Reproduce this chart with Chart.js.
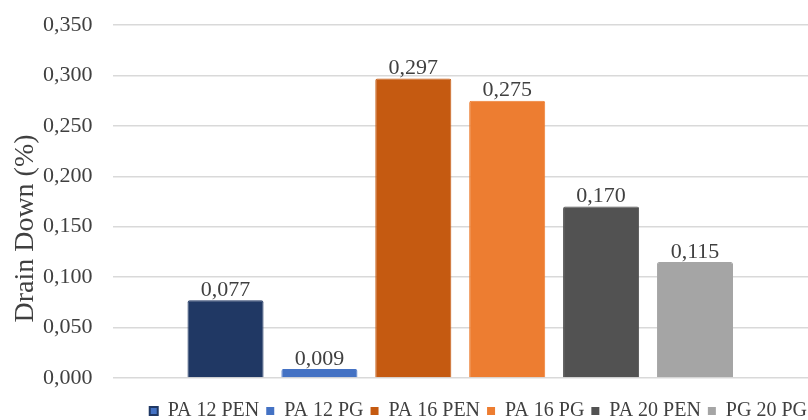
<!DOCTYPE html>
<html>
<head>
<meta charset="utf-8">
<script src="https://cdn.jsdelivr.net/npm/chart.js@4/dist/chart.umd.min.js"></script>
<style>
  html, body { margin: 0; padding: 0; background: #fff; }
  #wrap { width: 808px; height: 420px; }
</style>
</head>
<body>
<div id="wrap"><canvas id="drainChart"></canvas></div>
<script>
const mixes = ["PA 12 PEN", "PA 12 PG", "PA 16 PEN", "PA 16 PG", "PA 20 PEN", "PG 20 PG"];
const drainDown = [0.077, 0.009, 0.297, 0.275, 0.170, 0.115];
const barColors = ["#203864", "#4472C4", "#C55A11", "#ED7D31", "#525252", "#A5A5A5"];
const axisTitle = "Drain Down (%)";

const fmt = (v) => v.toFixed(3).replace(".", ",");
const serif = "'Liberation Serif', 'Times New Roman', serif";

// value labels above bars + rotated y title (sits a bit below centre like the original)
const extras = {
  id: "extras",
  afterDatasetsDraw(chart) {
    const ctx = chart.ctx;
    const area = chart.chartArea;
    ctx.save();
    ctx.font = "22px " + serif;
    ctx.fillStyle = "#404040";
    ctx.textAlign = "center";
    ctx.textBaseline = "bottom";
    chart.data.datasets.forEach((ds, i) => {
      const bar = chart.getDatasetMeta(i).data[0];
      ctx.fillText(fmt(ds.data[0]), bar.x, bar.y + 1);
    });
    ctx.translate(26, (area.top + area.bottom) / 2 + 27);
    ctx.rotate(-Math.PI / 2);
    ctx.font = "28px " + serif;
    ctx.textBaseline = "middle";
    ctx.fillText(axisTitle, 0, 0);
    ctx.restore();
  }
};

new Chart("drainChart", {
  type: "bar",
  data: {
    labels: [""],
    datasets: mixes.map((m, i) => ({
      label: m,
      data: [drainDown[i]],
      backgroundColor: barColors[i],
      borderColor: barColors[i],
      borderWidth: 1,
      borderRadius: 2,
      categoryPercentage: 0.81,
      barPercentage: 0.81,
    })),
  },
  options: {
    responsive: true,
    maintainAspectRatio: false,
    animation: false,
    layout: { padding: { top: 25, right: -6, left: 41, bottom: -11 } },
    plugins: {
      legend: {
        position: "bottom",
        align: "end",
        labels: {
          boxWidth: 8,
          boxHeight: 8,
          padding: 7,
          color: "#404040",
          font: { family: serif, size: 20 },
          generateLabels: (chart) =>
            chart.data.datasets.map((ds, i) => ({
              text: ds.label,
              fillStyle: i == 0 ? "#4472C4" : barColors[i],
              strokeStyle: i == 0 ? "#203864" : barColors[i],
              lineWidth: i == 0 ? 2 : 0,
              fontColor: "#404040",
              datasetIndex: i,
            })),
        },
      },
      tooltip: { enabled: false },
    },
    scales: {
      x: {
        grid: { display: false },
        border: { display: false },
        ticks: { display: false },
        afterFit: (s) => { s.height = 16; },
      },
      y: {
        min: 0,
        max: 0.35,
        ticks: {
          stepSize: 0.05,
          padding: 2,
          color: "#404040",
          font: { family: serif, size: 22 },
          callback: (v) => fmt(v),
        },
        grid: { color: "#d9d9d9", lineWidth: 1.5, drawTicks: true, tickLength: 18, tickColor: "rgba(0,0,0,0)" },
        border: { display: false },
      },
    },
  },
  plugins: [extras],
});
</script>
</body>
</html>
